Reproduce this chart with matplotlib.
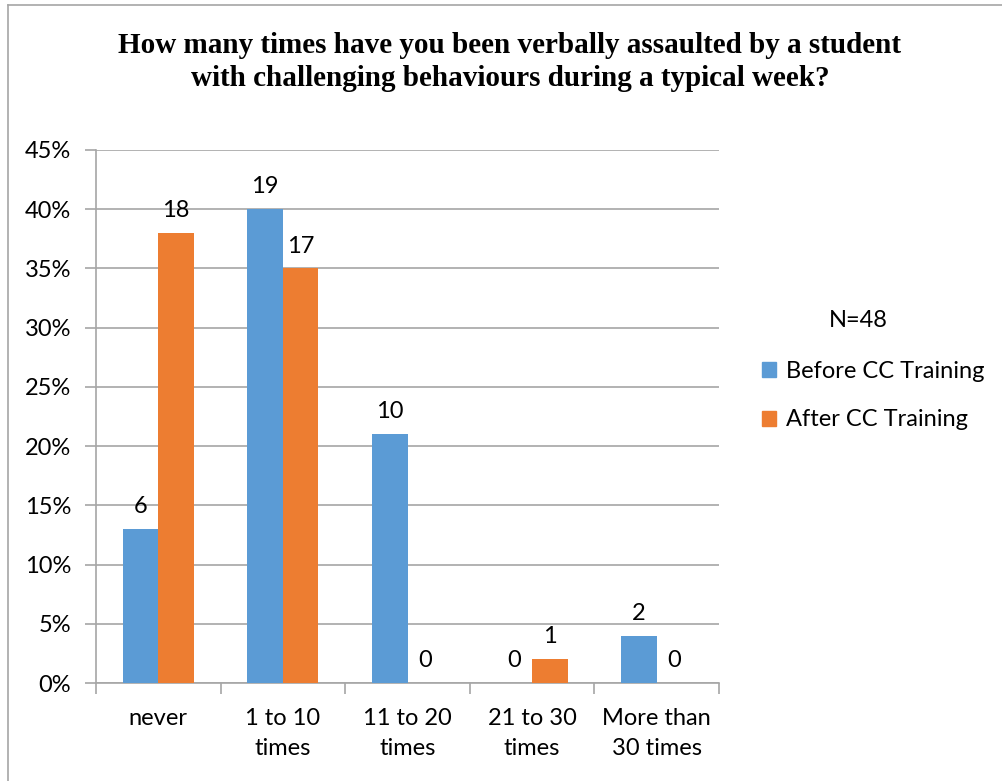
import matplotlib
matplotlib.use("Agg")
import matplotlib.pyplot as plt
from matplotlib.lines import Line2D
from matplotlib.patches import Patch
import numpy as np

categories = ["never", "1 to 10\ntimes", "11 to 20\ntimes", "21 to 30\ntimes", "More than\n30 times"]
before_pct = [13, 40, 21, 0, 4]
after_pct = [38, 35, 0, 2, 0]
before_n = [6, 19, 10, 0, 2]
after_n = [18, 17, 0, 1, 0]
yticks = [0, 5, 10, 15, 20, 25, 30, 35, 40, 45]
title = "How many times have you been verbally assaulted by a student\nwith challenging behaviours during a typical week?"
series_names = ["Before CC Training", "After CC Training"]
legend_title = "N=48"

BLUE = "#5B9BD5"
ORANGE = "#ED7D31"
GRID = "#A6A6A6"
W, H = 1002, 781

fig = plt.figure(figsize=(W / 100, H / 100), dpi=100)
ax = fig.add_axes([96 / W, 1 - 683 / H, (719 - 96) / W, (683 - 150) / H])

sans = "Lato"
FS = 17
x = np.arange(len(categories))
bw = 0.285
ax.bar(x - bw / 2, before_pct, bw, color=BLUE, zorder=3)
ax.bar(x + bw / 2, after_pct, bw, color=ORANGE, zorder=3)

for i in range(len(categories)):
    ax.text(x[i] - bw / 2, before_pct[i] + 1.0, str(before_n[i]), ha="center", va="bottom",
            fontsize=FS, family=sans, color="black", zorder=4)
    ax.text(x[i] + bw / 2, after_pct[i] + 1.0, str(after_n[i]), ha="center", va="bottom",
            fontsize=FS, family=sans, color="black", zorder=4)

ax.set_xlim(-0.5, len(categories) - 0.5)
ax.set_ylim(0, 45)
ax.set_yticks(yticks)
ax.set_yticklabels([f"{v}%" for v in yticks], family=sans, fontsize=FS)
ax.yaxis.grid(True, color=GRID, linewidth=1.2, zorder=0)
ax.tick_params(axis="y", length=8, color=GRID, width=1.2, pad=10)

ax.set_xticks(x)
ax.set_xticklabels(categories, family=sans, fontsize=FS, linespacing=1.55)
ax.set_xticks(np.arange(-0.5, len(categories)), minor=True)
ax.tick_params(axis="x", which="major", length=0, pad=18)
ax.tick_params(axis="x", which="minor", length=8, color=GRID, width=1.2)

for s in ["top", "right"]:
    ax.spines[s].set_visible(False)
for s in ["left", "bottom"]:
    ax.spines[s].set_color(GRID)
    ax.spines[s].set_linewidth(1.2)

fig.text(510 / W, 1 - 62 / H, title, ha="center", va="center", family="Liberation Serif",
         fontweight="bold", fontsize=21, linespacing=1.25)

handles = [Patch(color=BLUE), Patch(color=ORANGE)]
leg = fig.legend(handles, series_names, loc="upper left",
                 bbox_to_anchor=(741 / W, 1 - 340 / H), frameon=False,
                 prop={"family": sans, "size": FS},
                 handlelength=0.6, handleheight=0.6, handletextpad=0.4, labelspacing=1.15)
fig.text(858 / W, 1 - 320 / H, legend_title, ha="center", va="center", family=sans, fontsize=FS)

# outer border
fig.add_artist(Line2D([8 / W, 1.0], [1 - 5 / H, 1 - 5 / H], transform=fig.transFigure, color="#A6A6A6", lw=1.2))
fig.add_artist(Line2D([8 / W, 8 / W], [0, 1 - 5 / H], transform=fig.transFigure, color="#A6A6A6", lw=1.2))

fig.savefig("out.png", dpi=100)
